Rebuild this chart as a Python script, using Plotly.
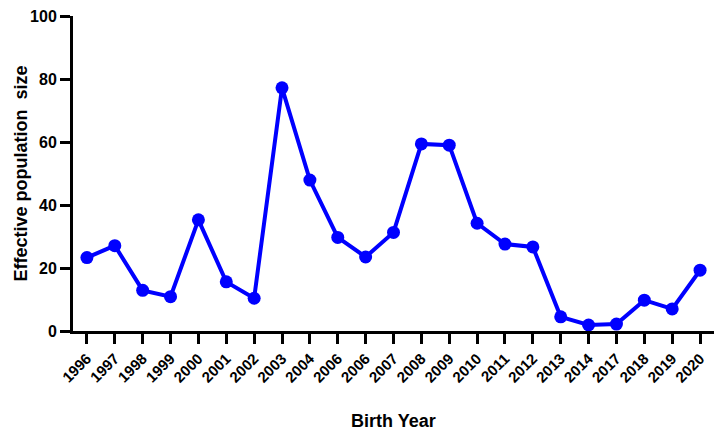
import plotly.graph_objects as go

years = ["1996", "1997", "1998", "1999", "2000", "2001", "2002", "2003", "2004", "2006",
         "2006", "2007", "2008", "2009", "2010", "2011", "2012", "2013", "2014", "2017",
         "2018", "2019", "2020"]
ne = [23.3, 27.1, 12.9, 10.9, 35.3, 15.6, 10.4, 77.2, 47.9, 29.7,
      23.5, 31.3, 59.4, 59.0, 34.2, 27.6, 26.7, 4.5, 1.9, 2.2,
      9.8, 7.0, 19.3]
y_ticks = [0, 20, 40, 60, 80, 100]
x_title = "Birth Year"
y_title = "Effective population  size"

idx = list(range(len(years)))
font_family = "Arial, Liberation Sans, sans-serif"

# the page body has an 8px default margin, so the figure is sized to fit the window
W, H = 718, 429
L, R, T, B = 65, 12, 8, 106
pw, ph = W - L - R, H - T - B

fig = go.Figure(go.Scatter(
    x=idx, y=ne, mode="lines+markers",
    line=dict(color="#0000ff", width=4),
    marker=dict(color="#0000ff", size=13),
    cliponaxis=False,
))

fig.update_layout(
    width=W, height=H,
    margin=dict(l=L, r=R, t=T, b=B, autoexpand=False),
    paper_bgcolor="white", plot_bgcolor="white",
    showlegend=False,
    font=dict(family=font_family, color="black"),
)
fig.update_xaxes(
    range=[-0.5, len(years) - 0.5],
    tickvals=idx, ticktext=years, tickangle=-45,
    tickfont=dict(size=15, family=font_family, weight="bold"),
    showline=True, linecolor="black", linewidth=3,
    ticks="outside", ticklen=10, tickwidth=3, tickcolor="black",
    showgrid=False, zeroline=False, automargin=False,
    ticklabeloverflow="allow",
)
fig.update_yaxes(
    range=[0, 100], tickvals=y_ticks,
    tickfont=dict(size=16, family=font_family, weight="bold"),
    showline=True, linecolor="black", linewidth=3,
    ticks="outside", ticklen=10, tickwidth=3, tickcolor="black",
    showgrid=False, zeroline=False, automargin=False,
    ticklabeloverflow="allow",
)
fig.add_annotation(
    text=f"<b>{x_title}</b>", xref="paper", yref="paper",
    x=0.5, y=-(413 - (T + ph)) / ph, xanchor="center", yanchor="middle",
    showarrow=False, font=dict(size=18, family=font_family, color="black"),
)
fig.add_annotation(
    text=f"<b>{y_title}</b>", xref="paper", yref="paper", textangle=-90,
    x=(12 - L) / pw, y=0.5, xanchor="center", yanchor="middle",
    showarrow=False, font=dict(size=18, family=font_family, color="black"),
)

fig.write_html("out.html")
